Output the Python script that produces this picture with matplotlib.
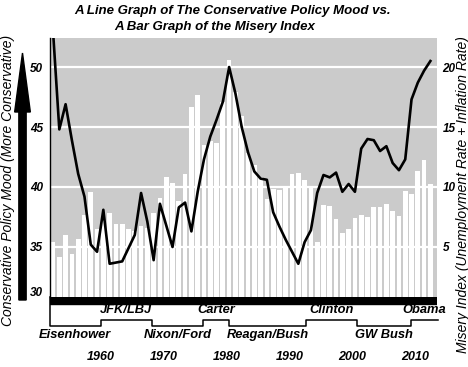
import numpy as np
import matplotlib
matplotlib.use("Agg")
import matplotlib.pyplot as plt
from matplotlib.patches import FancyArrow

# ---- data ----
YEARS = list(range(1952, 2013))

# conservative policy mood (left axis)
MOOD = [53.0, 44.8, 46.9, 43.9, 41.1, 39.2, 35.2, 34.6, 38.1, 33.6,
        33.7, 33.8, 34.9, 36.0, 39.5, 37.1, 33.9, 38.6, 36.8, 35.0,
        38.3, 38.7, 36.3, 39.6, 42.3, 44.2, 45.6, 47.1, 50.0, 47.8,
        45.0, 42.9, 41.3, 40.7, 40.6, 37.9, 36.7, 35.6, 34.6, 33.6,
        35.4, 36.4, 39.5, 41.0, 40.8, 41.2, 39.6, 40.25, 39.6, 43.2,
        44.0, 43.9, 43.0, 43.4, 42.0, 41.4, 42.3, 47.3, 48.7, 49.7, 50.5]

# misery index (right axis)
MISERY = [5.4, 4.2, 6.0, 4.45, 5.7, 7.65, 9.6, 6.5, 7.2, 7.85,
          6.9, 6.95, 6.5, 6.3, 6.75, 6.6, 7.85, 9.05, 10.8, 10.3,
          8.85, 11.1, 16.7, 17.7, 13.5, 13.8, 13.7, 17.1, 20.6, 17.9,
          15.9, 12.8, 11.8, 10.8, 9.0, 9.8, 9.75, 10.1, 11.1, 11.2,
          10.6, 10.0, 5.4, 8.5, 8.4, 7.3, 6.2, 6.5, 7.4, 7.65,
          7.5, 8.3, 8.3, 8.6, 8.0, 7.6, 9.7, 9.45, 11.35, 12.25, 10.25]

PRESIDENTS = ["Eisenhower", "JFK/LBJ", "Nixon/Ford", "Carter",
              "Reagan/Bush", "Clinton", "GW Bush", "Obama"]
TERM_EDGES = [1951.5, 1959.6, 1967.7, 1975.9, 1980.0, 1992.2, 2000.3, 2008.9, 2013.2]

MOOD_TICKS = [31.27, 35, 40, 45, 50]
MOOD_TICKLABELS = ["30", "35", "40", "45", "50"]
MISERY_TICKS = [5, 10, 15, 20]
YEAR_TICKS = [1960, 1970, 1980, 1990, 2000, 2010]

W, H = 468, 367
BG = "#cbcbcb"
FONT = "Liberation Sans"
plt.rcParams["font.family"] = [FONT, "DejaVu Sans"]
bi = dict(fontweight="bold", fontstyle="italic")

fig = plt.figure(figsize=(W / 100, H / 100), dpi=100)

left, right, top, bottom = 50, 437, 38, 297
pos = [left / W, 1 - bottom / H, (right - left) / W, (bottom - top) / H]
xlim = (1951.52, 2013.05)

# bars live on the right-hand axis, drawn underneath
ax2 = fig.add_axes(pos)
ax2.set_facecolor(BG)
ax2.bar(YEARS, MISERY, width=0.75, color="white", zorder=2)
ax2.set_ylim(0.83, 22.42)
ax2.set_xlim(*xlim)
ax2.yaxis.tick_right()
ax2.set_yticks(MISERY_TICKS)
ax2.set_yticklabels([str(t) for t in MISERY_TICKS], fontsize=8.5, **bi)
for t in MISERY_TICKS:
    ax2.axhline(t, color="white", lw=1.6, zorder=1)
ax2.tick_params(axis="y", length=0, pad=4)
ax2.set_xticks([])
for s in ax2.spines.values():
    s.set_visible(False)

# mood line on top
ax = fig.add_axes(pos)
ax.patch.set_visible(False)
ax.plot(YEARS, MOOD, color="black", lw=1.9, zorder=5)
ax.set_ylim(30.83, 52.42)
ax.set_xlim(*xlim)
ax.set_yticks(MOOD_TICKS)
ax.set_yticklabels(MOOD_TICKLABELS, fontsize=8.5, **bi)
ax.tick_params(axis="y", length=0, pad=5)
ax.set_xticks([])
for k, s in ax.spines.items():
    s.set_visible(k == "left")
ax.spines["left"].set_linewidth(1.0)

# timeline strip under the chart
axt = fig.add_axes([left / W, 0, (right - left) / W, (H - bottom) / H])
axt.set_xlim(*xlim)
axt.set_ylim(H - bottom, 0)
axt.axis("off")
axt.axhspan(0, 6.5, color="black")
hi, lo = 22.5, 28.5
levels = [lo if i % 2 == 0 else hi for i in range(len(PRESIDENTS))]
xs, ys = [TERM_EDGES[0]], [0]
for i, lev in enumerate(levels):
    xs += [TERM_EDGES[i], TERM_EDGES[i + 1]]
    ys += [lev, lev]
axt.plot(xs, ys, color="black", lw=1.1, clip_on=False)
for i, name in enumerate(PRESIDENTS):
    mid = (TERM_EDGES[i] + TERM_EDGES[i + 1]) / 2
    y = 38 if levels[i] == lo else 13
    axt.text(mid, y, name, ha="center", va="center", fontsize=9.3, **bi)
for yr in YEAR_TICKS:
    axt.text(yr - 0.4, 60, str(yr), ha="center", va="center", fontsize=9, **bi)

# overlay in pixel coordinates for titles, axis labels and the arrow
ov = fig.add_axes([0, 0, 1, 1])
ov.set_xlim(0, W)
ov.set_ylim(H, 0)
ov.axis("off")
ov.add_patch(FancyArrow(22.5, 300, 0, -247, width=7.3, head_width=15.7,
                        head_length=59, length_includes_head=True, color="black"))
ov.text(233, 11, "A Line Graph of The Conservative Policy Mood vs.",
        ha="center", va="center", fontsize=9.5, **bi)
ov.text(215, 27, "A Bar Graph of the Misery Index",
        ha="center", va="center", fontsize=9.5, **bi)
ov.text(8, 180, "Conservative Policy Mood (More Conservative)", rotation=90,
        ha="center", va="center", fontsize=10, fontstyle="italic")
ov.text(462.5, 195, "Misery Index (Unemployment Rate + Inflation Rate)", rotation=90,
        ha="center", va="center", fontsize=10, fontstyle="italic")

fig.savefig("out.png", dpi=100)
